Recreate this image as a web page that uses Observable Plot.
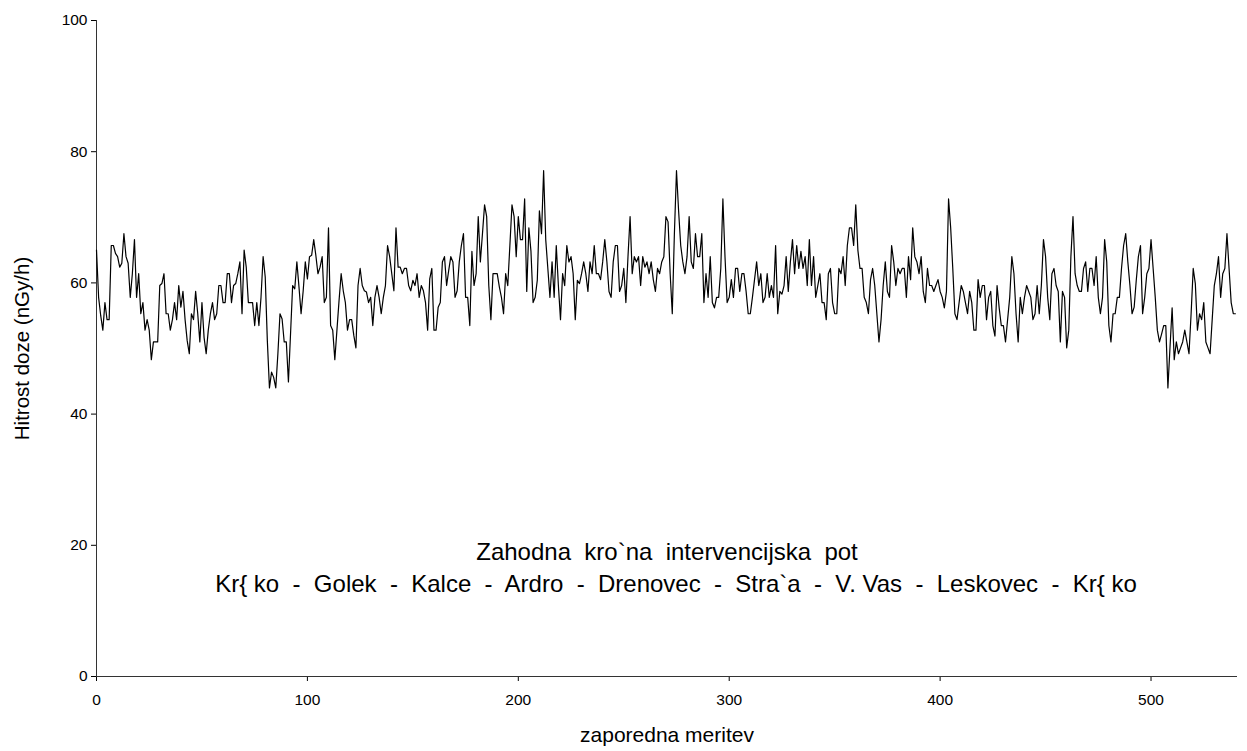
<!DOCTYPE html>
<html><head><meta charset="utf-8">
<script src="https://cdn.jsdelivr.net/npm/d3@7"></script>
<script src="https://cdn.jsdelivr.net/npm/@observablehq/plot@0.6"></script>
<style>
body{margin:0;background:#fff}
svg text{white-space:pre}
</style>
</head><body><div id="chart"></div>
<script>
const seg1 = [65,57.8,55,52.8,57,54.4,54.4,65.7,65.7,64.5,64,62.4,63,67.5,64,63,57.8,61.4,66.6,57.8,61.4,55.3,57,52.8,54.4,52.8,48.3,51,51,51,59.6,59.9,61.4,55.3,55.3,52.8,54.4,57,54.4,59.6,56.3,58.7,54.4,51.2,49.2,55.3,54.4,58.7,55.3,51,57,51.7,49.2];
const seg2 = [52.8,55.3,57,54.4,55.3,59.6,59.6,57,57,61.4,61.4,57,59.6,59.9,61.4,63.2,55.3,65,62.4,57,57,57,53.5,57,53.5,57.8,64,60.9,51.2,44,46.4,45.6,44,49.2,55.3,54.5,51,51,44.9,52.2,59.6,59.1,63.2,59.4,55.3,58.8,63.2,60.6,64,64.2,66.6,64.2,61.4,62.4,64];
const seg3 = [57,57.8,68.4,53.5,52.8,48.3,52.8,57.3,61.4,58.8,57,52.8,54.4,54.4,52,50.1,59.6,62.2,59.6,58.8,58.6,57,57.8,53.5,57.8,59.6,57.8,55.3,57.8,59.6,65.7,64,61.4,58.8,68.4,62.4,62.4,61.4,62.2,62.2,59.6,58.8,60.4,59.6,61.4,57.8,59.6,58.8,57,52.8,60.6,62.2,52.8,52.8,56.3];
const seg4 = [57,63.2,64,59.6,61.9,64,63.2,57.8,58.8,63.2,65.7,67.5,57.8,57.8,53.5,64.8,59.6,61.4,70.1,63.2,67.5,71.9,70.1,59.6,54.4,61.4,61.4,61.4,59.4,57.8,55.3,61.4,59.6,65.7,71.9,70.1,64,70.1,66.6,66.6,72.8,58.7,68.4,64.8,57,57.8,60.4,71,67.5,77.1,66.6,62.2,57.8,63.2];
const seg5 = [57.8,65.7,59.6,54.4,61.4,59.6,65.7,63.2,64,61.4,54.4,60.4,59.9,61.4,63.2,61.4,58.7,63.2,61.4,65.7,61.4,61.4,60.5,63.2,66.6,63.2,58.7,57.8,63.2,65.7,65.7,58.7,59.6,62.2,57,64,70.1,61.4,64,63.2,64,59.6,64,62.4,63.2,61.4,63.2,60.5,58.7,62.2,61.4,63.2,64,70.1,69.3];
const seg6 = [61.4,55.3,67.5,77.1,71,65.7,63.2,61.4,64,70.1,63.2,62.2,67.5,64,64,67.5,57,61.4,57.8,64,57,56.2,57.8,57.8,62.2,72.8,64,57,57.8,60.5,57.8,62.2,62.2,58.7,61.4,61.4,58.7,55.3,55.3,57.8,60.5,63.2,59.6,61.4,57,57.8,61.4,57.8,59.6,57.8,65.7,55.3,58.7,58.3];
const seg7 = [59.6,64,58.7,63.2,66.6,61.4,65.7,62.2,64.8,62.2,64,59.6,66.6,59.6,64,57.8,59.6,61.4,57,57,54.4,61.4,62.2,57,55.3,55.3,62.2,61.4,64,59.6,65.7,68.4,68.4,65.7,71.9,65,62.2,62.2,57.8,57,55.3,60.5,62.2,59.6,55.3,51,54.4,59.6,63.2,58.7,57.8,65.7,63.2,59.6,62.2];
const seg8 = [61.4,62.2,62.2,57.8,64,60.5,68.4,64,63.2,61.4,64,58.7,57,62.2,59.6,59.6,58.7,59.6,60.5,58.7,57.8,56.2,58.7,72.8,68.4,62.2,55.3,54.4,57,59.6,58.7,57,55.3,58.7,57,52.8,52.8,60.5,57.8,59.6,59.6,54.4,57.8,58.7,53.5,51.9,59.6,56.2,53.5,53.5,51,54.4,57.8,64];
const seg9 = [61.4,55.3,51,57.8,55.3,57.8,59.6,58.7,57.8,54.4,55.3,59.6,55.3,59.6,66.6,64,57.8,54.4,61.4,62.2,59.6,58.7,51,58.7,57.8,50.1,52.8,64,70.1,61.4,59.6,58.7,58.7,62.2,63.2,58.7,62.2,62.2,59.6,64,57.8,55.3,57.8,66.6,63.2,53.5,51,55.3,55.3,57.8,57.8,62.2,65.7,67.5];
const seg10 = [63.2,59.6,55.3,56.3,60.4,64,65.7,55.3,57.8,61.4,62.2,66.6,62.2,57.8,52.8,51,52.2,53.5,53.5,44,50.2,56.2,48.3,51,49.2,50.1,51,52.8,51,49.2,55.3,62.2,59.9,52.8,55.3,54.4,57,51,50.1,49.2,54.4,59.6,61.4,64,57.8,61.4,62.2,67.5,62.2,57,55.3,55.3];

const xTicks = [0,100,200,300,400,500];
const yTicks = [0,20,40,60,80,100];
const yTitle = "Hitrost doze (nGy/h)";
const xTitle = "zaporedna meritev";
const noteLine1 = "Zahodna  kro`na  intervencijska  pot";
const noteLine2 = "Kr{ ko  -  Golek  -  Kalce  -  Ardro  -  Drenovec  -  Stra`a  -  V. Vas  -  Leskovec  -  Kr{ ko";

const doseRate = [].concat(seg1,seg2,seg3,seg4,seg5,seg6,seg7,seg8,seg9,seg10);
const series = doseRate.map((v,i)=>({i, v}));

const chart = Plot.plot({
  width: 1247,
  height: 751,
  marginTop: 20,
  marginBottom: 75,
  marginLeft: 96,
  marginRight: 10,
  style: {fontFamily: "'Liberation Sans', Arial, sans-serif", fontSize: "15.5px", color: "#000", background: "#fff"},
  x: {domain: [0, 541], ticks: xTicks, tickSize: 5, tickPadding: 12, label: null},
  y: {domain: [0, 100], ticks: yTicks, tickSize: 5, tickPadding: 4, label: null},
  marks: [
    Plot.ruleX([0], {stroke: "#333"}),
    Plot.ruleY([0], {stroke: "#333"}),
    Plot.line(series, {x: "i", y: "v", stroke: "#000", strokeWidth: 1.2}),
    Plot.text([noteLine1], {text: d => d, frameAnchor: "bottom", lineAnchor: "middle", dy: -124, fontSize: 24, fill: "#000"}),
    Plot.text([noteLine2], {text: d => d, frameAnchor: "bottom", lineAnchor: "middle", dx: 9, dy: -92, fontSize: 24, fill: "#000"}),
    Plot.text([yTitle], {text: d => d, frameAnchor: "left", textAnchor: "middle", lineAnchor: "middle", dx: -74, rotate: -90, fontSize: 20.5, fill: "#000"}),
    Plot.text([xTitle], {text: d => d, frameAnchor: "bottom", lineAnchor: "middle", dy: 59, fontSize: 21, fill: "#000"})
  ]
});
document.getElementById("chart").appendChild(chart);
</script>
</body></html>
